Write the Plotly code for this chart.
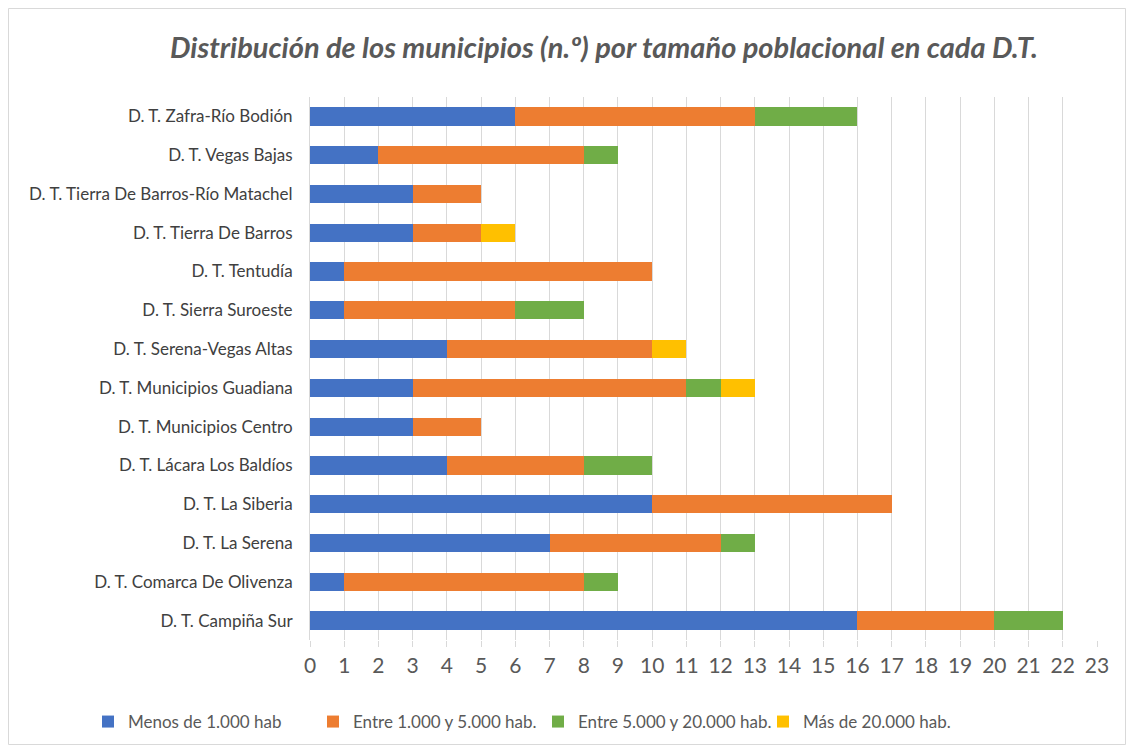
import plotly.graph_objects as go

categories = [
    "D. T. Campiña Sur",
    "D. T. Comarca De Olivenza",
    "D. T. La Serena",
    "D. T. La Siberia",
    "D. T. Lácara Los Baldíos",
    "D. T. Municipios Centro",
    "D. T. Municipios Guadiana",
    "D. T. Serena-Vegas Altas",
    "D. T. Sierra Suroeste",
    "D. T. Tentudía",
    "D. T. Tierra De Barros",
    "D. T. Tierra De Barros-Río Matachel",
    "D. T. Vegas Bajas",
    "D. T. Zafra-Río Bodión",
]
menos_1000 = [16, 1, 7, 10, 4, 3, 3, 4, 1, 1, 3, 3, 2, 6]
entre_1000_5000 = [4, 7, 5, 7, 4, 2, 8, 6, 5, 9, 2, 2, 6, 7]
entre_5000_20000 = [2, 1, 1, 0, 2, 0, 1, 0, 2, 0, 0, 0, 1, 3]
mas_20000 = [0, 0, 0, 0, 0, 0, 1, 1, 0, 0, 1, 0, 0, 0]
series_names = ["Menos de 1.000 hab", "Entre 1.000 y 5.000 hab.",
                "Entre 5.000 y 20.000 hab.", "Más de 20.000 hab."]
colors = ["#4472C4", "#ED7D31", "#70AD47", "#FFC000"]
x_ticks = list(range(0, 24))

FONT = "Lato"
# the page adds an 8px body margin; figure coordinates = screen - 8
W, H = 1118, 737
L, R, T, B = 302, 29, 89, 105

fig = go.Figure()
for name, vals, col in zip(series_names,
                           [menos_1000, entre_1000_5000, entre_5000_20000, mas_20000],
                           colors):
    fig.add_trace(go.Bar(y=categories, x=vals, name=name, orientation="h",
                         marker=dict(color=col, line=dict(width=0))))

pw = W - L - R
ph = H - T - B
fig.update_layout(
    width=W, height=H,
    barmode="stack", bargap=0.53,
    paper_bgcolor="white", plot_bgcolor="white",
    margin=dict(l=L, r=R, t=T, b=B, autoexpand=False),
    font=dict(family=FONT, color="#595959"),
    title=dict(text="<b><i>Distribución de los municipios (n.º) por tamaño poblacional en cada D.T.</i></b>",
               x=596 / W, xanchor="center", y=1 - 40 / H, yanchor="middle",
               font=dict(size=29, color="#595959", family=FONT)),
    xaxis=dict(range=[0, 23], tickvals=x_ticks, showgrid=True, gridcolor="#D9D9D9",
               gridwidth=1, zeroline=False, ticks="outside", ticklen=6,
               tickcolor="#D9D9D9", tickfont=dict(size=21, color="#595959"),
               ticklabelstandoff=1, showline=False),
    yaxis=dict(showgrid=False, showline=True, linecolor="#D9D9D9", linewidth=1,
               ticks="", tickfont=dict(size=17, color="#404040"), ticklabelstandoff=13,
               range=[-0.5, 13.5]),
    legend=dict(orientation="h", x=(80 - L) / pw, xanchor="left",
                y=-(714 - (H - B)) / ph, yanchor="middle",
                font=dict(size=17, color="#595959"), traceorder="normal",
                entrywidth=180, entrywidthmode="pixels", itemwidth=30,
                tracegroupgap=0),
    showlegend=True,
)
# outer chart border
fig.add_shape(type="rect", xref="paper", yref="paper",
              x0=(0.5 - L) / pw, x1=(W - 0.5 - L) / pw,
              y0=-(H - 0.5 - (H - B)) / ph, y1=1 + (T - 0.5) / ph,
              line=dict(color="#D9D9D9", width=1), fillcolor="rgba(0,0,0,0)", layer="below")

fig.write_html("out.html")
